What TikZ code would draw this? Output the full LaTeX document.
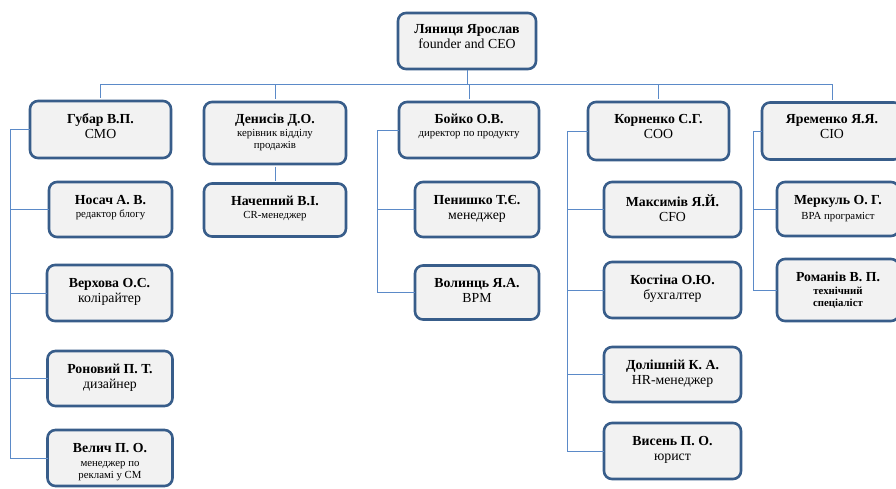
\documentclass[tikz,border=0pt]{standalone}
\usepackage{fontspec}
\setmainfont{Liberation Serif}
\usetikzlibrary{calc}
\definecolor{bord}{HTML}{385D8A}
\definecolor{boxfill}{HTML}{F2F2F2}
\definecolor{conn}{HTML}{5B8AC8}
\newcommand\sm{\fontsize{10.8}{12}\selectfont}
\begin{document}
\begin{tikzpicture}[x=1pt,y=-1pt,
  obox/.style={draw=bord, line width=2.6pt, fill=boxfill, rounded corners=8pt, inner sep=0pt},
  lbl/.style={anchor=north, align=center, inner sep=0pt, font=\fontsize{13.8}{15}\selectfont},
  wire/.style={draw=conn, line width=0.9pt}]
\useasboundingbox (0,0) rectangle (896,488);
\clip (0,0) rectangle (896,488);
\fill[white] (0,0) rectangle (896,488);

% rail coordinates
\coordinate (bus) at (0,84);
\coordinate (railA) at (10,0);
\coordinate (railC) at (377,0);
\coordinate (railD) at (567,0);
\coordinate (railE) at (753,0);

% boxes
\node[obox, minimum width=138pt, minimum height=56pt] (top) at (467,41) {};
\node[obox, minimum width=141pt, minimum height=57pt] (gub) at (100.5,129.5) {};
\node[obox, minimum width=142pt, minimum height=62pt] (den) at (275,133) {};
\node[obox, minimum width=140pt, minimum height=56pt] (boy) at (469,130) {};
\node[obox, minimum width=141pt, minimum height=58pt] (kor) at (658.5,131) {};
\node[obox, minimum width=140pt, minimum height=57pt] (yar) at (832,131) {};

\node[obox, minimum width=123pt, minimum height=55pt] (nos) at (110.5,209.5) {};
\node[obox, minimum width=125pt, minimum height=56pt] (ver) at (109.5,293) {};
\node[obox, minimum width=125pt, minimum height=55pt] (ron) at (110,378.5) {};
\node[obox, minimum width=125pt, minimum height=56pt] (vel) at (110,458) {};

\node[obox, minimum width=142pt, minimum height=53pt] (nach) at (275,210) {};

\node[obox, minimum width=124pt, minimum height=55pt] (pen) at (477,209.5) {};
\node[obox, minimum width=124pt, minimum height=54pt] (vol) at (477,292.5) {};

\node[obox, minimum width=137pt, minimum height=55pt] (max) at (672.5,209.5) {};
\node[obox, minimum width=137pt, minimum height=56pt] (kos) at (672.5,290) {};
\node[obox, minimum width=137pt, minimum height=55pt] (dol) at (672.5,374.5) {};
\node[obox, minimum width=137pt, minimum height=56pt] (vys) at (672.5,451) {};

\node[obox, minimum width=122pt, minimum height=54pt] (mer) at (838,209) {};
\node[obox, minimum width=122pt, minimum height=62pt] (rom) at (838,290) {};

% labels
\node[lbl] (topt) at ([yshift=-13pt]top.north) {\textbf{Ляниця Ярослав}\\founder and CEO};
\node[lbl] (gubt) at ([yshift=-14pt]gub.north) {\textbf{Губар В.П.}\\CMO};
\node[lbl] (dent) at ([yshift=-13pt]den.north) {\textbf{Денисів Д.О.}\\[-2pt]{\sm керівник відділу}\\[-3pt]{\sm продажів}};
\node[lbl] (boyt) at ([yshift=-13pt]boy.north) {\textbf{Бойко О.В.}\\[-2pt]{\sm директор по продукту}};
\node[lbl] (kort) at ([yshift=-13pt]kor.north) {\textbf{Корненко С.Г.}\\COO};
\node[lbl] (yart) at ([yshift=-13pt]yar.north) {\textbf{Яременко Я.Я.}\\CIO};

\node[lbl] (nost) at ([yshift=-14pt]nos.north) {\textbf{Носач А. В.}\\[-2pt]{\sm редактор блогу}};
\node[lbl] (vert) at ([yshift=-14pt]ver.north) {\textbf{Верхова О.С.}\\колірайтер};
\node[lbl] (ront) at ([yshift=-14pt]ron.north) {\textbf{Роновий П. Т.}\\дизайнер};
\node[lbl] (velt) at ([yshift=-14pt]vel.north) {\textbf{Велич П. О.}\\[-1pt]{\sm менеджер по}\\[-3pt]{\sm рекламі у СМ}};

\node[lbl] (nacht) at ([yshift=-14pt]nach.north) {\textbf{Начепний В.І.}\\[-2pt]{\sm CR-менеджер}};

\node[lbl] (pent) at ([yshift=-14pt]pen.north) {\textbf{Пенишко Т.Є.}\\менеджер};
\node[lbl] (volt) at ([yshift=-14pt]vol.north) {\textbf{Волинць Я.А.}\\BPM};

\node[lbl] (maxt) at ([yshift=-14pt]max.north) {\textbf{Максимів Я.Й.}\\CFO};
\node[lbl] (kost) at ([yshift=-14pt]kos.north) {\textbf{Костіна О.Ю.}\\бухгалтер};
\node[lbl] (dolt) at ([yshift=-14pt]dol.north) {\textbf{Долішній К. А.}\\HR-менеджер};
\node[lbl] (vyst) at ([yshift=-14pt]vys.north) {\textbf{Висень П. О.}\\юрист};

\node[lbl] (mert) at ([yshift=-14pt]mer.north) {\textbf{Меркуль О. Г.}\\[0pt]{\sm BPA програміст}};
\node[lbl] (romt) at ([yshift=-14pt]rom.north) {\textbf{Романів В. П.}\\[-2pt]{\sm\bfseries технічний}\\[-3pt]{\sm\bfseries спеціаліст}};

% connectors: top level
\draw[wire] (top.south) -- (top.south |- bus);
\foreach \n in {gub,den,boy,kor,yar}{
  \draw[wire] (top.south |- bus) -| ([yshift=1.3pt]\n.north);
}
% column A
\foreach \n in {nos,ver,ron,vel}{
  \draw[wire] ([xshift=1.3pt]gub.west) -- (gub.west -| railA) |- ([xshift=1.3pt]\n.west);
}
% column B
\draw[wire] ([yshift=-1.3pt]den.south) -- ([yshift=1.3pt]nach.north);
% column C
\foreach \n in {pen,vol}{
  \draw[wire] ([xshift=1.3pt]boy.west) -- (boy.west -| railC) |- ([xshift=1.3pt]\n.west);
}
% column D
\foreach \n in {max,kos,dol,vys}{
  \draw[wire] ([xshift=1.3pt]kor.west) -- (kor.west -| railD) |- ([xshift=1.3pt]\n.west);
}
% column E
\foreach \n in {mer,rom}{
  \draw[wire] ([xshift=1.3pt]yar.west) -- (yar.west -| railE) |- ([xshift=1.3pt]\n.west);
}
\end{tikzpicture}
\end{document}
